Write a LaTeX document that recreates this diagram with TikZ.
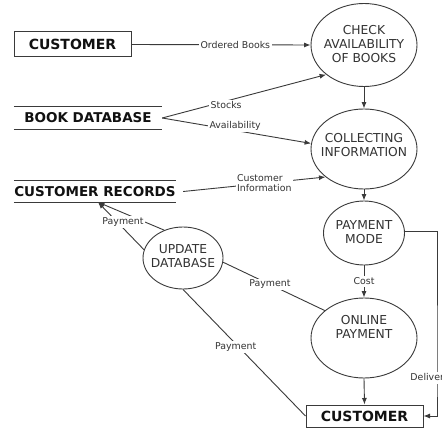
\documentclass[tikz,border=0pt]{standalone}
\usepackage{fontspec}
\setmainfont{DejaVu Sans}
\usetikzlibrary{shapes.geometric,arrows.meta}
\definecolor{inkline}{HTML}{3A3A3A}
\definecolor{inktext}{HTML}{333333}
\definecolor{inkbold}{HTML}{111111}
\begin{document}
\begin{tikzpicture}[x=1pt,y=-1pt,
  proc/.style={ellipse,draw=inkline,line width=0.9pt,inner sep=0pt},
  proctext/.style={align=center,inner sep=0pt,text=inktext,font=\fontsize{12.3}{14}\selectfont},
  ext/.style={rectangle,draw=inkline,line width=1pt,inner sep=0pt,text=inkbold,font=\fontsize{14}{16}\selectfont\bfseries},
  store/.style={rectangle,inner sep=0pt,text=inkbold,font=\fontsize{13.5}{16}\selectfont\bfseries},
  storeline/.style={draw=inkline,line width=1pt},
  lbl/.style={fill=white,inner sep=1.5pt,text=inktext,font=\fontsize{9.4}{10.3}\selectfont},
  flow/.style={draw=inkline,line width=0.9pt},
  arr/.style={flow,-{Latex[length=6.5pt,width=5pt]}},
]
\useasboundingbox (0,0) rectangle (442,428);
\fill[white] (0,0) rectangle (442,428);

% external entities
\node[ext,minimum width=117pt,minimum height=25pt] (cust1) at (72.5,44.5) {CUSTOMER};
\node[ext,minimum width=117pt,minimum height=22pt] (cust2) at (364.5,416) {CUSTOMER};

% data stores
\node[store,minimum width=148pt,minimum height=22pt] (bookdb) at (88,118) {BOOK DATABASE};
\node[store,minimum width=162pt,minimum height=21pt] (custrec) at (95,191.5) {CUSTOMER RECORDS};
\path[storeline] (bookdb.north west) -- (bookdb.north east)
                 (bookdb.south west) -- (bookdb.south east)
                 (custrec.north west) -- (custrec.north east)
                 (custrec.south west) -- (custrec.south east);

% processes
\node[proc,minimum width=106pt,minimum height=83pt] (check) at (364,45) {};
\node[proctext] (checkT) at (364,44.5) {CHECK\\AVAILABILITY\\OF BOOKS};
\node[proc,minimum width=106pt,minimum height=80pt] (collect) at (364,149) {};
\node[proctext] (collectT) at (364,145) {COLLECTING\\INFORMATION};
\node[proc,minimum width=81pt,minimum height=64pt] (pmode) at (364,233) {};
\node[proctext] (pmodeT) at (364,232) {PAYMENT\\MODE};
\node[proc,minimum width=106pt,minimum height=80pt] (online) at (364,338) {};
\node[proctext] (onlineT) at (364,327) {ONLINE\\PAYMENT};
\node[proc,minimum width=80pt,minimum height=62pt] (update) at (183,258) {};
\node[proctext] (updateT) at (183,256) {UPDATE\\DATABASE};

% flows along the main column
\draw[arr] (cust1.east) -- node[lbl,pos=0.58] {Ordered Books} (check.west);
\draw[arr] (check.south) -- (collect.north);
\draw[arr] (collect.south) -- (pmode.north);
\draw[arr] (pmode.south) -- node[lbl] {Cost} (online.north);
\draw[arr] (online.south) -- (cust2.north);

% flows from the data stores
\draw[arr] (bookdb.east) -- node[lbl,pos=0.39,yshift=-4pt] {Stocks} (check.218);
\draw[arr] (bookdb.east) -- node[lbl,pos=0.49,yshift=5pt] {Availability} (collect.174);
\draw[arr] ([xshift=7pt]custrec.east) -- node[lbl,pos=0.57,align=left] {Customer\\Information} (collect.216);

% flows around the update process
\coordinate (recin) at ([xshift=3pt]custrec.south);
\draw[arr] (update.124) -- (recin);
\draw[arr] (update.168) -- (recin);
\node[lbl] (payrec) at (123,222) {Payment};
\draw[flow] (update.354) -- node[lbl,pos=0.46] {Payment} (online.145);
\draw[flow] (update.south) -- node[lbl,pos=0.43,yshift=-3pt] {Payment} (cust2.west);

% delivery back to the customer
\coordinate (dv) at (437,378);
\draw[arr] ([yshift=2pt]pmode.east) -| (dv) |- (cust2.east);
\node[lbl] (deliv) at (430,378) {Delivery};
\end{tikzpicture}
\end{document}
